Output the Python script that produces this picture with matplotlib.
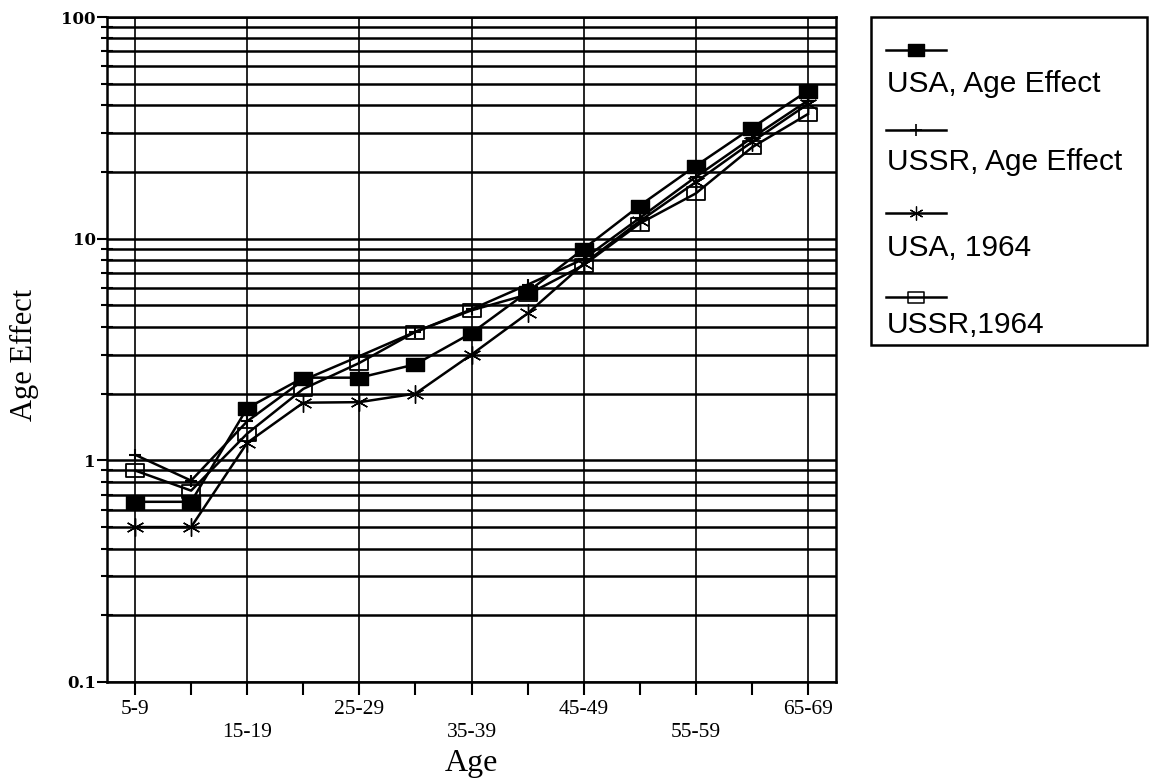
import matplotlib
matplotlib.use('Agg')
import matplotlib.pyplot as plt
from matplotlib.path import Path
from matplotlib.lines import Line2D
from matplotlib.patches import Rectangle
from matplotlib.ticker import NullFormatter
import numpy as np

age_groups = ['5-9', '10-14', '15-19', '20-24', '25-29', '30-34', '35-39',
              '40-44', '45-49', '50-54', '55-59', '60-64', '65-69']
usa_age = [0.65, 0.65, 1.72, 2.36, 2.36, 2.71, 3.75, 5.75, 9.0, 14.1, 21.3, 31.6, 46.5]
ussr_age = [1.06, 0.81, 1.5, 2.3, 2.95, 3.8, 4.8, 6.2, 8.1, 12.4, 19.0, 28.5, 42.0]
usa_1964 = [0.50, 0.50, 1.2, 1.82, 1.83, 2.0, 3.0, 4.6, 7.7, 12.0, 18.0, 27.3, 40.5]
ussr_1964 = [0.90, 0.73, 1.32, 2.1, 2.75, 3.8, 4.75, 5.6, 7.6, 11.7, 16.0, 25.8, 36.5]
series_labels = ['USA, Age Effect', 'USSR, Age Effect', 'USA, 1964', 'USSR,1964']
y_ticks = [0.1, 1, 10, 100]
y_tick_labels = ['0.1', '1', '10', '100']

W, H = 1150, 780
fig = plt.figure(figsize=(W / 100, H / 100), dpi=100)
ax = fig.add_axes([107 / W, 1 - 682 / H, (836 - 107) / W, (682 - 17) / H])

rect = Path([(-1, -0.72), (1, -0.72), (1, 0.72), (-1, 0.72), (-1, -0.72)],
            [Path.MOVETO, Path.LINETO, Path.LINETO, Path.LINETO, Path.CLOSEPOLY])

styles = [
    dict(marker=rect, ms=13, mfc='black', mec='black', mew=1.0),
    dict(marker='+', ms=9, mec='black', mew=1.5),
    dict(marker=(6, 2, 0), ms=13, mec='black', mew=1.0),
    dict(marker=rect, ms=13, mfc='none', mec='black', mew=1.3),
]
legend_styles = [
    dict(marker=rect, ms=12, mfc='black', mec='black', mew=1.0),
    dict(marker='+', ms=8, mec='black', mew=1.2),
    dict(marker=(6, 2, 0), ms=10, mec='black', mew=0.9),
    dict(marker=rect, ms=11, mfc='none', mec='black', mew=1.1),
]
series = [usa_age, ussr_age, usa_1964, ussr_1964]
x = np.arange(len(age_groups))
for vals, st in zip(series, styles):
    ax.plot(x, vals, color='black', lw=1.8, zorder=3, **st)

ax.set_yscale('log')
ax.set_ylim(0.1, 100)
ax.set_xlim(-0.5, len(age_groups) - 0.5)
ax.set_yticks(y_ticks)
ax.set_yticklabels(y_tick_labels, fontfamily='DejaVu Serif', fontweight='bold', fontsize=12)
ax.yaxis.set_minor_formatter(NullFormatter())

ax.set_xticks(x[::2])
ax.set_xticks(x[1::2], minor=True)
labs = [lab if i % 2 == 0 else '\n' + lab for i, lab in enumerate(age_groups[::2])]
ax.set_xticklabels(labs, fontfamily='Liberation Serif', fontsize=15.5, linespacing=1.25)

ax.grid(True, which='both', axis='y', color='black', lw=1.8)
ax.grid(True, which='major', axis='x', color='black', lw=1.2)
ax.tick_params(axis='y', which='major', direction='out', length=7, width=1.5, pad=1)
ax.tick_params(axis='y', which='minor', direction='inout', length=8, width=1.5)
ax.tick_params(axis='x', which='both', direction='out', length=9, width=1.5, pad=4)
for sp in ax.spines.values():
    sp.set_linewidth(1.8)

ax.set_xlabel('Age', fontfamily='Liberation Serif', fontsize=23, labelpad=5)
fig.text(24 / W, 1 - 355 / H, 'Age Effect', rotation=90, ha='center', va='center',
         fontfamily='Liberation Serif', fontsize=22)

# legend box (drawn outside the axes, to the right)
fx = lambda p: p / W
fy = lambda p: 1 - p / H
fig.add_artist(Rectangle((fx(871), fy(345)), (1147 - 871) / W, (345 - 17) / H,
                         transform=fig.transFigure, fill=False, lw=1.8, color='black'))
line_y = [50, 130, 213, 297]
text_y = [84, 162, 248, 325]
for lab, st, ly, ty in zip(series_labels, legend_styles, line_y, text_y):
    fig.add_artist(Line2D([fx(886), fx(916), fx(946)], [fy(ly)] * 3, color='black', lw=1.8,
                          markevery=[1], transform=fig.transFigure, **st))
    fig.text(fx(887), fy(ty), lab, ha='left', va='center', fontfamily='Liberation Sans',
             fontsize=21.5)

fig.savefig('out.png', dpi=100)
